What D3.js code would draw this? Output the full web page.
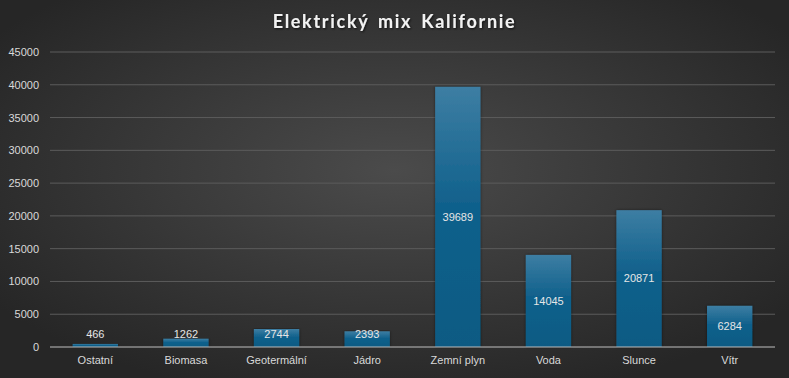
<!DOCTYPE html>
<html><head><meta charset="utf-8">
<script src="https://cdn.jsdelivr.net/npm/d3@7"></script>
<style>html,body{margin:0;padding:0;background:#333;}svg{display:block;}</style>
</head><body>
<svg id="chart" width="789" height="378"></svg>
<script>
const categories = ["Ostatní","Biomasa","Geotermální","Jádro","Zemní plyn","Voda","Slunce","Vítr"];
const values = [466,1262,2744,2393,39689,14045,20871,6284];
const yTicks = [0,5000,10000,15000,20000,25000,30000,35000,40000,45000];
const title = "Elektrický mix Kalifornie";

const W = 789, H = 378;
const m = {left:50, right:14, top:52, bottom:31};
const svg = d3.select("#chart");
const defs = svg.append("defs");
const bg = defs.append("radialGradient").attr("id","bg").attr("cx","50%").attr("cy","45%").attr("r","62%");
bg.append("stop").attr("offset","0%").attr("stop-color","#4b4b4b");
bg.append("stop").attr("offset","100%").attr("stop-color","#262626");
const bar = defs.append("linearGradient").attr("id","bar").attr("x1",0).attr("y1",0).attr("x2",0).attr("y2",1);
bar.append("stop").attr("offset","0%").attr("stop-color","#3d7ea3");
bar.append("stop").attr("offset","45%").attr("stop-color","#11618c");
bar.append("stop").attr("offset","100%").attr("stop-color","#0c5a83");
const sh = defs.append("filter").attr("id","ts").attr("x","-10%").attr("y","-30%").attr("width","120%").attr("height","160%");
sh.append("feDropShadow").attr("dx",1).attr("dy",1).attr("stdDeviation",1).attr("flood-color","#000").attr("flood-opacity",0.7);
const bs = defs.append("filter").attr("id","bs").attr("x","-20%").attr("y","-5%").attr("width","140%").attr("height","110%");
bs.append("feDropShadow").attr("dx",0).attr("dy",0).attr("stdDeviation",1.5).attr("flood-color","#000").attr("flood-opacity",0.5);

svg.append("rect").attr("width",W).attr("height",H).attr("fill","url(#bg)");

const x = d3.scaleBand().domain(categories).range([m.left, W-m.right]).paddingInner(0.5).paddingOuter(0.25);
const y = d3.scaleLinear().domain([0,45000]).range([H-m.bottom, m.top]);

// gridlines
svg.append("g").selectAll("line").data(yTicks.filter(d=>d>0)).join("line")
  .attr("x1",m.left).attr("x2",W-m.right)
  .attr("y1",d=>y(d)).attr("y2",d=>y(d))
  .attr("stroke","#5c5c5c").attr("stroke-width",1);

// y axis labels
const yAxis = d3.axisLeft(y).tickValues(yTicks).tickSize(0).tickPadding(0).tickFormat(d=>String(d));
const ga = svg.append("g").attr("transform",`translate(${m.left-11},0)`).call(yAxis);
ga.select(".domain").remove();
ga.selectAll("text").attr("fill","#d9d9d9").style("font-family","'Liberation Sans',Arial,sans-serif").style("font-size","11px");

// bars
svg.append("g").selectAll("rect").data(values).join("rect")
  .attr("x",(d,i)=>x(categories[i])).attr("width",x.bandwidth())
  .attr("y",d=>y(d)).attr("height",d=>y(0)-y(d))
  .attr("fill","url(#bar)").attr("filter","url(#bs)");

// x axis
const xAxis = d3.axisBottom(x).tickSize(0).tickPadding(9);
const gx = svg.append("g").attr("transform",`translate(0,${y(0)})`).call(xAxis);
gx.select(".domain").attr("stroke","#bfbfbf").attr("d",`M${m.left},0H${W-m.right}`);
gx.selectAll("text").attr("fill","#d9d9d9").style("font-family","'Liberation Sans',Arial,sans-serif").style("font-size","11px");

// value labels
svg.append("g").selectAll("text").data(values).join("text")
  .attr("x",(d,i)=>x(categories[i])+x.bandwidth()/2)
  .attr("y",d=>Math.min((y(d)+y(0))/2, y(0)-13))
  .attr("dy","0.35em").attr("text-anchor","middle")
  .attr("fill","#e6e6e6").style("font-family","'Liberation Sans',Arial,sans-serif").style("font-size","11px")
  .text(d=>d);

// title
svg.append("text").attr("x",W/2).attr("y",22).attr("dy","0.35em").attr("text-anchor","middle")
  .attr("fill","#f2f2f2").attr("filter","url(#ts)")
  .style("font-family","Lato,'Open Sans',sans-serif").style("font-weight","bold").style("font-size","18px").style("letter-spacing","1.7px").style("word-spacing","3px")
  .text(title);
</script>
</body></html>
